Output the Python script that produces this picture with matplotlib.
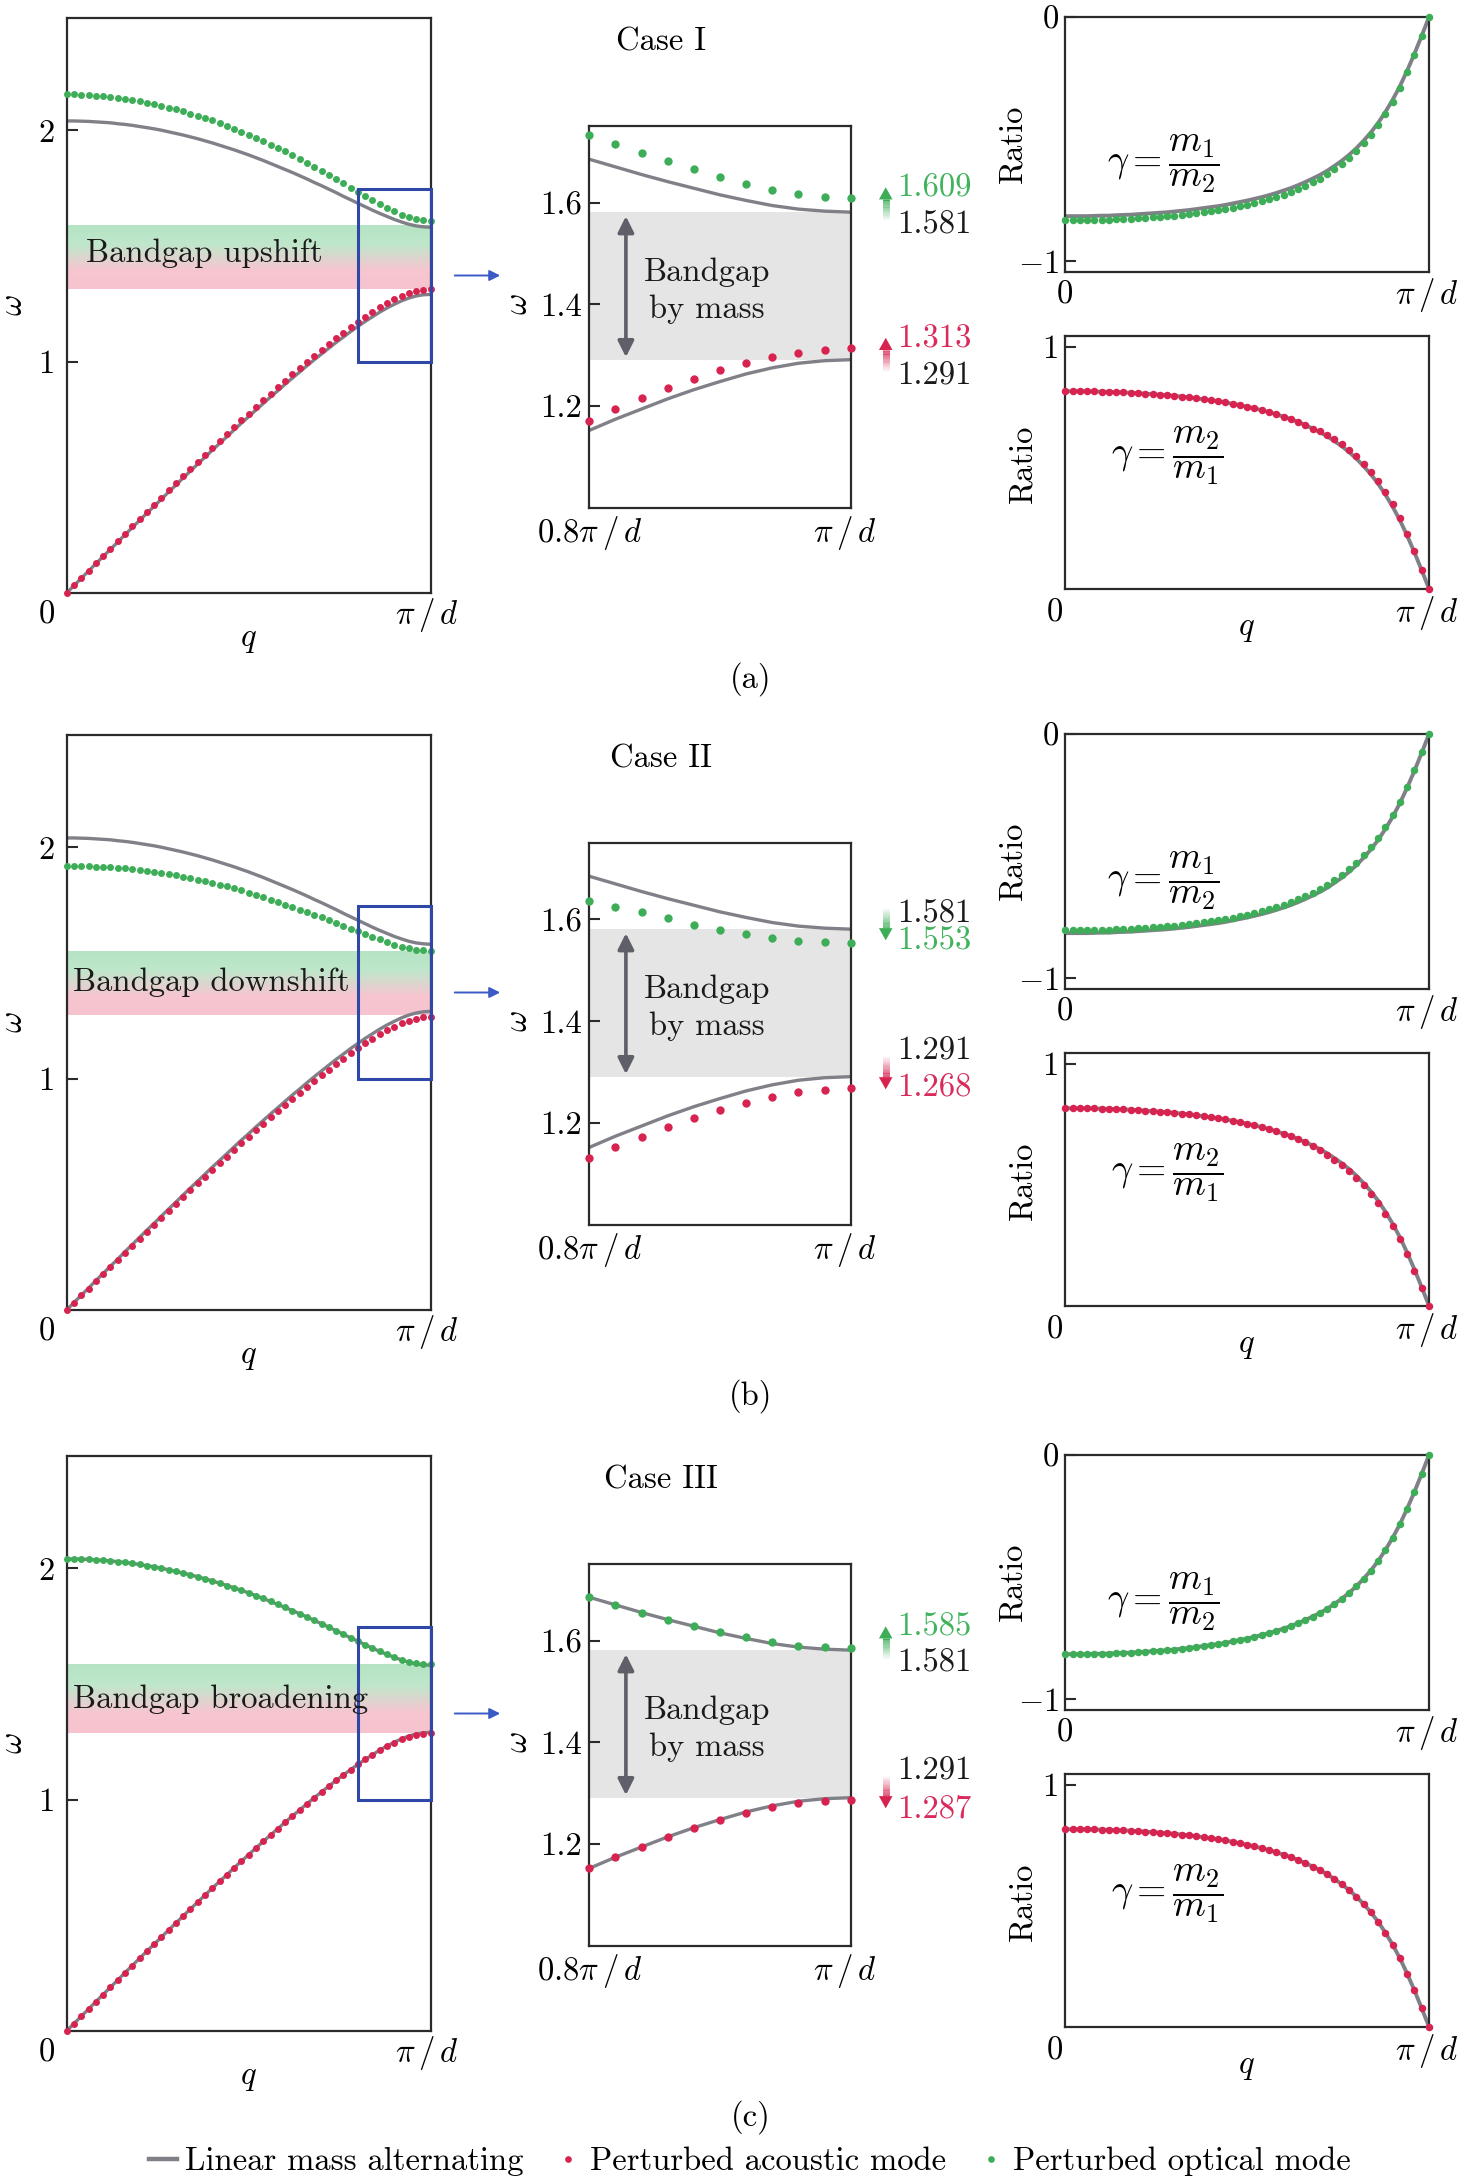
import numpy as np
import matplotlib
matplotlib.use("Agg")
import matplotlib.pyplot as plt
import matplotlib.transforms as mtransforms
from matplotlib.colors import LinearSegmentedColormap
from matplotlib.lines import Line2D
from matplotlib.patches import Rectangle, Polygon, FancyArrowPatch

# ─── Data (q in units of pi/d) ───────────────────────────────────────────────
q_frac = [0.00, 0.02, 0.04, 0.06, 0.08, 0.10, 0.12, 0.14, 0.16, 0.18,
          0.20, 0.22, 0.24, 0.26, 0.28, 0.30, 0.32, 0.34, 0.36, 0.38,
          0.40, 0.42, 0.44, 0.46, 0.48, 0.50, 0.52, 0.54, 0.56, 0.58,
          0.60, 0.62, 0.64, 0.66, 0.68, 0.70, 0.72, 0.74, 0.76, 0.78,
          0.80, 0.82, 0.84, 0.86, 0.88, 0.90, 0.92, 0.94, 0.96, 0.98, 1.00]

# linear mass alternating (reference, gray)
lin_opt = [2.041, 2.041, 2.040, 2.039, 2.037, 2.035, 2.033, 2.029, 2.026, 2.022,
           2.017, 2.012, 2.007, 2.001, 1.994, 1.987, 1.980, 1.972, 1.964, 1.955,
           1.946, 1.936, 1.926, 1.916, 1.905, 1.894, 1.882, 1.870, 1.857, 1.844,
           1.831, 1.818, 1.804, 1.790, 1.775, 1.761, 1.746, 1.731, 1.715, 1.700,
           1.685, 1.670, 1.655, 1.641, 1.628, 1.615, 1.604, 1.594, 1.587, 1.583, 1.581]
lin_ac = [0.000, 0.031, 0.063, 0.094, 0.126, 0.157, 0.188, 0.219, 0.251, 0.282,
          0.313, 0.344, 0.374, 0.405, 0.436, 0.466, 0.497, 0.527, 0.557, 0.587,
          0.617, 0.646, 0.675, 0.705, 0.734, 0.762, 0.791, 0.819, 0.847, 0.874,
          0.902, 0.929, 0.955, 0.982, 1.008, 1.033, 1.058, 1.083, 1.106, 1.130,
          1.152, 1.174, 1.194, 1.214, 1.232, 1.248, 1.263, 1.275, 1.284, 1.289, 1.291]
lin_ratio_opt = [-0.816, -0.816, -0.816, -0.816, -0.815, -0.814, -0.814, -0.812, -0.811, -0.810,
                 -0.808, -0.806, -0.804, -0.802, -0.800, -0.797, -0.794, -0.791, -0.787, -0.783,
                 -0.779, -0.775, -0.770, -0.764, -0.758, -0.752, -0.745, -0.738, -0.730, -0.721,
                 -0.711, -0.701, -0.689, -0.676, -0.662, -0.647, -0.630, -0.610, -0.589, -0.565,
                 -0.538, -0.507, -0.473, -0.434, -0.389, -0.339, -0.283, -0.219, -0.150, -0.076, 0.000]
lin_ratio_ac = [0.816, 0.816, 0.816, 0.816, 0.815, 0.814, 0.814, 0.812, 0.811, 0.810,
                0.808, 0.806, 0.804, 0.802, 0.800, 0.797, 0.794, 0.791, 0.787, 0.783,
                0.779, 0.775, 0.770, 0.764, 0.758, 0.752, 0.745, 0.738, 0.730, 0.721,
                0.711, 0.701, 0.689, 0.676, 0.662, 0.647, 0.630, 0.610, 0.589, 0.565,
                0.538, 0.507, 0.473, 0.434, 0.389, 0.339, 0.283, 0.219, 0.150, 0.076, 0.000]

# Case I (upshift)
pert_opt_1 = [2.156, 2.156, 2.155, 2.153, 2.151, 2.148, 2.146, 2.141, 2.137, 2.132,
              2.126, 2.120, 2.114, 2.107, 2.099, 2.091, 2.083, 2.073, 2.064, 2.053,
              2.043, 2.031, 2.019, 2.008, 1.995, 1.982, 1.968, 1.954, 1.939, 1.924,
              1.909, 1.894, 1.877, 1.861, 1.843, 1.826, 1.808, 1.790, 1.771, 1.752,
              1.733, 1.715, 1.698, 1.681, 1.665, 1.650, 1.636, 1.625, 1.617, 1.611, 1.609]
pert_ac_1 = [0.000, 0.032, 0.064, 0.096, 0.128, 0.160, 0.191, 0.223, 0.255, 0.287,
             0.318, 0.350, 0.380, 0.412, 0.443, 0.474, 0.505, 0.536, 0.566, 0.597,
             0.627, 0.657, 0.686, 0.717, 0.746, 0.775, 0.804, 0.833, 0.861, 0.889,
             0.917, 0.945, 0.971, 0.999, 1.025, 1.051, 1.076, 1.101, 1.125, 1.149,
             1.170, 1.195, 1.215, 1.235, 1.253, 1.270, 1.285, 1.296, 1.305, 1.311, 1.313]
pert_ratio_opt_1 = [-0.833, -0.833, -0.833, -0.833, -0.832, -0.831, -0.831, -0.829, -0.828, -0.827,
                    -0.825, -0.823, -0.821, -0.819, -0.817, -0.814, -0.811, -0.808, -0.804, -0.800,
                    -0.796, -0.792, -0.787, -0.781, -0.775, -0.769, -0.762, -0.755, -0.747, -0.738,
                    -0.728, -0.718, -0.706, -0.692, -0.678, -0.662, -0.645, -0.624, -0.603, -0.578,
                    -0.550, -0.518, -0.483, -0.443, -0.397, -0.346, -0.289, -0.224, -0.154, -0.078, 0.000]
pert_ratio_ac_1 = [0.816, 0.816, 0.816, 0.816, 0.815, 0.814, 0.814, 0.812, 0.811, 0.810,
                   0.808, 0.806, 0.804, 0.802, 0.800, 0.797, 0.794, 0.791, 0.787, 0.783,
                   0.779, 0.775, 0.770, 0.764, 0.758, 0.752, 0.745, 0.738, 0.730, 0.721,
                   0.711, 0.701, 0.689, 0.676, 0.662, 0.652, 0.636, 0.617, 0.597, 0.574,
                   0.547, 0.517, 0.483, 0.444, 0.399, 0.348, 0.291, 0.226, 0.155, 0.079, 0.000]

# Case II (downshift)
pert_opt_2 = [1.919, 1.919, 1.918, 1.918, 1.916, 1.915, 1.914, 1.911, 1.909, 1.906,
              1.902, 1.898, 1.894, 1.890, 1.884, 1.879, 1.873, 1.867, 1.861, 1.854,
              1.847, 1.839, 1.831, 1.823, 1.814, 1.805, 1.795, 1.785, 1.774, 1.764,
              1.753, 1.743, 1.731, 1.720, 1.708, 1.697, 1.685, 1.673, 1.660, 1.649,
              1.637, 1.625, 1.614, 1.602, 1.590, 1.580, 1.571, 1.564, 1.558, 1.555, 1.553]
pert_ac_2 = [0.000, 0.030, 0.062, 0.092, 0.124, 0.154, 0.185, 0.215, 0.246, 0.277,
             0.307, 0.338, 0.367, 0.398, 0.428, 0.458, 0.488, 0.518, 0.547, 0.576,
             0.606, 0.634, 0.663, 0.692, 0.721, 0.748, 0.777, 0.804, 0.832, 0.858,
             0.886, 0.912, 0.938, 0.964, 0.990, 1.014, 1.039, 1.064, 1.086, 1.110,
             1.132, 1.153, 1.173, 1.192, 1.210, 1.225, 1.239, 1.251, 1.260, 1.265, 1.268]
pert_ratio_opt_2 = [-0.804, -0.804, -0.804, -0.804, -0.803, -0.802, -0.802, -0.800, -0.799, -0.798,
                    -0.796, -0.794, -0.792, -0.790, -0.788, -0.785, -0.782, -0.779, -0.775, -0.771,
                    -0.767, -0.763, -0.758, -0.752, -0.746, -0.740, -0.733, -0.726, -0.718, -0.709,
                    -0.699, -0.689, -0.677, -0.664, -0.650, -0.635, -0.618, -0.598, -0.577, -0.553,
                    -0.527, -0.497, -0.464, -0.426, -0.382, -0.333, -0.278, -0.215, -0.147, -0.075, 0.000]
pert_ratio_ac_2 = [0.816, 0.816, 0.816, 0.816, 0.815, 0.814, 0.814, 0.812, 0.811, 0.810,
                   0.808, 0.806, 0.804, 0.802, 0.800, 0.797, 0.794, 0.791, 0.787, 0.783,
                   0.779, 0.775, 0.770, 0.764, 0.758, 0.752, 0.745, 0.738, 0.730, 0.721,
                   0.711, 0.701, 0.689, 0.676, 0.662, 0.642, 0.624, 0.603, 0.581, 0.556,
                   0.529, 0.497, 0.463, 0.424, 0.379, 0.330, 0.275, 0.212, 0.145, 0.073, 0.000]

# Case III (broadening)
pert_opt_3 = [2.041, 2.041, 2.040, 2.039, 2.037, 2.035, 2.033, 2.029, 2.026, 2.022,
              2.017, 2.012, 2.007, 2.001, 1.994, 1.987, 1.980, 1.972, 1.964, 1.955,
              1.946, 1.936, 1.926, 1.916, 1.905, 1.894, 1.882, 1.870, 1.857, 1.844,
              1.831, 1.818, 1.804, 1.790, 1.775, 1.761, 1.746, 1.731, 1.715, 1.700,
              1.685, 1.670, 1.655, 1.641, 1.628, 1.616, 1.606, 1.597, 1.590, 1.587, 1.585]
pert_ac_3 = [0.000, 0.031, 0.063, 0.094, 0.126, 0.157, 0.188, 0.219, 0.251, 0.282,
             0.313, 0.344, 0.374, 0.405, 0.436, 0.466, 0.497, 0.527, 0.557, 0.587,
             0.617, 0.646, 0.675, 0.705, 0.734, 0.762, 0.791, 0.819, 0.847, 0.874,
             0.902, 0.929, 0.955, 0.982, 1.008, 1.033, 1.058, 1.083, 1.106, 1.130,
             1.152, 1.174, 1.194, 1.214, 1.232, 1.247, 1.261, 1.272, 1.281, 1.285, 1.287]
pert_ratio_opt_3 = lin_ratio_opt
pert_ratio_ac_3 = lin_ratio_ac

case_titles = ["Case I", "Case II", "Case III"]
band_texts = ["Bandgap upshift", "Bandgap downshift", "Bandgap broadening"]
band_lo = [1.312, 1.276, 1.287]
band_hi = [1.588, 1.550, 1.585]
band_text_y = [1.467, 1.416, 1.436]
band_text_x = [0.053, 0.017, 0.017]
sub_labels = ["(a)", "(b)", "(c)"]

# labels next to the zoom panel: (text, colour key, y)
upper_labels = [[("1.609", "g", 1.628), ("1.581", "k", 1.556)],
                [("1.581", "k", 1.610), ("1.553", "g", 1.557)],
                [("1.585", "g", 1.626), ("1.581", "k", 1.555)]]
lower_labels = [[("1.313", "r", 1.332), ("1.291", "k", 1.259)],
                [("1.291", "k", 1.342), ("1.268", "r", 1.268)],
                [("1.291", "k", 1.343), ("1.287", "r", 1.269)]]
green_arrows = [(1.565, 1.630), (1.623, 1.559), (1.564, 1.628)]
red_arrows = [(1.269, 1.334), (1.332, 1.266), (1.334, 1.270)]

pert_opt = [pert_opt_1, pert_opt_2, pert_opt_3]
pert_ac = [pert_ac_1, pert_ac_2, pert_ac_3]
pert_ratio_opt = [pert_ratio_opt_1, pert_ratio_opt_2, pert_ratio_opt_3]
pert_ratio_ac = [pert_ratio_ac_1, pert_ratio_ac_2, pert_ratio_ac_3]

# ─── Style ───────────────────────────────────────────────────────────────────
GRAY = "#808088"
GREEN = "#3dad58"
RED = "#d7234f"
GREEN_TXT = "#42b35d"
RED_TXT = "#d92a5a"
BLUE = "#2f48a8"
SPINE = "#2a2a2a"
COLS = {"g": GREEN_TXT, "r": RED_TXT, "k": "#1a1a1a"}

plt.rcParams["font.family"] = "cmr10"
plt.rcParams["mathtext.fontset"] = "cm"
plt.rcParams["axes.unicode_minus"] = False
plt.rcParams["axes.formatter.use_mathtext"] = True
FS = 23.5
plt.rcParams["font.size"] = FS

W, H = 1462, 2182
ROW_OFF = [0, 717, 1438]

fig = plt.figure(figsize=(W / 100, H / 100), dpi=100)


def box(l, t, r, b):
    return [l / W, 1 - b / H, (r - l) / W, (b - t) / H]


def ftext(x, y, s, **kw):
    kw.setdefault("ha", "center")
    kw.setdefault("va", "center")
    fig.text(x / W, 1 - y / H, s, fontsize=FS, **kw)


def style_axes(ax):
    for sp in ax.spines.values():
        sp.set_color(SPINE)
        sp.set_linewidth(1.6)
    ax.set_xticks([])
    ax.tick_params(axis="y", direction="in", length=8, width=1.5,
                   color=SPINE, labelsize=FS)


def fade_arrow(ax, x, y_tail, y_tip, color):
    tr = mtransforms.blended_transform_factory(ax.transAxes, ax.transData)
    head = 0.024 if y_tip > y_tail else -0.024
    y_base = y_tip - head
    n = 18
    ys = np.linspace(y_tail, y_base, n + 1)
    for i in range(n):
        ax.plot([x, x], [ys[i], ys[i + 1]], transform=tr, color=color,
                alpha=((i + 1) / n) ** 1.2, lw=5.0, solid_capstyle="butt", clip_on=False)
    ax.add_patch(Polygon([(x - 0.026, y_base), (x + 0.026, y_base), (x, y_tip)],
                         closed=True, transform=tr, facecolor=color,
                         edgecolor="none", clip_on=False))


band_cmap = LinearSegmentedColormap.from_list(
    "band", [(0.0, "#f7c3cf"), (0.3, "#f6c6d0"), (0.7, "#bfe7cb"), (1.0, "#b5e4c4")])
gradient = np.linspace(0, 1, 256).reshape(-1, 1)

for r in range(3):
    o = ROW_OFF[r]

    # ── left: full dispersion ────────────────────────────────────
    ax1 = fig.add_axes(box(66.7, 18.3 + o, 430.7, 592.8 + o))
    style_axes(ax1)
    ax1.imshow(gradient, extent=(0, 1, band_lo[r], band_hi[r]), origin="lower",
               aspect="auto", cmap=band_cmap, zorder=0.5)
    ax1.plot(q_frac, lin_opt, color=GRAY, lw=2.4, zorder=2)
    ax1.plot(q_frac, lin_ac, color=GRAY, lw=2.4, zorder=2)
    ax1.plot(q_frac, pert_opt[r], "o", color=GREEN, ms=5.0, mew=0, zorder=3, clip_on=False)
    ax1.plot(q_frac, pert_ac[r], "o", color=RED, ms=5.0, mew=0, zorder=3, clip_on=False)
    ax1.add_patch(Rectangle((0.8, 1.0), 0.2, 0.745, fill=False, edgecolor=BLUE,
                            lw=2.2, zorder=4, clip_on=False))
    ax1.text(band_text_x[r], band_text_y[r], band_texts[r], ha="left", va="center",
             fontsize=FS, color="#1a1a1a", zorder=5,
             transform=mtransforms.blended_transform_factory(ax1.transAxes, ax1.transData))
    ax1.set_xlim(0, 1)
    ax1.set_ylim(0, 2.485)
    ax1.set_yticks([1, 2])
    ax1.set_yticklabels(["1", "2"])
    ax1.tick_params(axis="y", pad=8.4)
    ftext(13.3, 305 + o, r"$\omega$", rotation=90)
    ftext(46.7, 614.6 + o, "0")
    ftext(426.7, 614.6 + o, r"$\pi\,/\,d$")
    ftext(248.0, 640.8 + o, r"$q$")

    # blue arrow to zoomed panel
    fig.add_artist(FancyArrowPatch((452 / W, 1 - (275.5 + o) / H), (503 / W, 1 - (275.5 + o) / H),
                                   transform=fig.transFigure, arrowstyle="-|>",
                                   mutation_scale=16, color="#3a5bc7", lw=1.4))

    # ── middle: zoom near the zone edge ──────────────────────────
    ax2 = fig.add_axes(box(589.3, 126.2 + o, 850.7, 507.7 + o))
    style_axes(ax2)
    ax2.axhspan(lin_ac[-1], lin_opt[-1], color="#e6e5e5", lw=0, zorder=0.5)
    ax2.plot(q_frac[40:], lin_opt[40:], color=GRAY, lw=2.4, zorder=2)
    ax2.plot(q_frac[40:], lin_ac[40:], color=GRAY, lw=2.4, zorder=2)
    ax2.plot(q_frac[40:], pert_opt[r][40:], "o", color=GREEN, ms=6.0, mew=0, zorder=3, clip_on=False)
    ax2.plot(q_frac[40:], pert_ac[r][40:], "o", color=RED, ms=6.0, mew=0, zorder=3, clip_on=False)
    ax2.annotate("", xy=(0.828, 1.296), xytext=(0.828, 1.573),
                 arrowprops=dict(arrowstyle="<|-|>", color="#5e5f68", lw=2.6,
                                 mutation_scale=24, shrinkA=0, shrinkB=0), zorder=3)
    ax2.text(0.8 + 0.449 * 0.2, 1.427, "Bandgap\nby mass", ha="center", va="center",
             fontsize=FS, linespacing=1.3, color="#1a1a1a", zorder=4)
    ax2.set_xlim(0.8, 1.0)
    ax2.set_ylim(1.0, 1.75)
    ax2.set_yticks([1.2, 1.4, 1.6])
    ax2.set_yticklabels(["1.2", "1.4", "1.6"])
    ax2.tick_params(axis="y", pad=5.5)

    tr2 = mtransforms.blended_transform_factory(ax2.transAxes, ax2.transData)
    for txt, ck, yy in upper_labels[r] + lower_labels[r]:
        ax2.text(1.178, yy, txt, transform=tr2, ha="left", va="center",
                 fontsize=FS, color=COLS[ck], clip_on=False)
    fade_arrow(ax2, 1.134, green_arrows[r][0], green_arrows[r][1], GREEN)
    fade_arrow(ax2, 1.134, red_arrows[r][0], red_arrows[r][1], RED)

    ftext(661, 42.3 + o, case_titles[r])
    ftext(518.3, 303.8 + o, r"$\omega$", rotation=90)
    ftext(590, 532.7 + o, r"$0.8\pi\,/\,d$")
    ftext(845, 532.7 + o, r"$\pi\,/\,d$")

    # ── right top: optical amplitude ratio ───────────────────────
    ax3 = fig.add_axes(box(1065.3, 17.2 + o, 1429, 271.6 + o))
    style_axes(ax3)
    ax3.plot(q_frac, lin_ratio_opt, color=GRAY, lw=2.8, zorder=2)
    ax3.plot(q_frac, pert_ratio_opt[r], "o", color=GREEN, ms=5.4, mew=0, zorder=3, clip_on=False)
    ax3.set_xlim(0, 1)
    ax3.set_ylim(-1.0435, 0)
    ax3.set_yticks([-1, 0])
    ax3.set_yticklabels([r"$-1$", "0"])
    ax3.tick_params(axis="y", pad=4.5)
    ax3.text(0.115, -0.6, r"$\gamma=\dfrac{m_1}{m_2}$", transform=ax3.transData,
             ha="left", va="center", fontsize=27)
    ftext(1013, 143.6 + o, "Ratio", rotation=90)
    ftext(1065, 294.6 + o, "0")
    ftext(1426.7, 294.6 + o, r"$\pi\,/\,d$")

    # ── right bottom: acoustic amplitude ratio ───────────────────
    ax4 = fig.add_axes(box(1065.3, 335.6 + o, 1429, 588.7 + o))
    style_axes(ax4)
    ax4.plot(q_frac, lin_ratio_ac, color=GRAY, lw=2.8, zorder=2)
    ax4.plot(q_frac, pert_ratio_ac[r], "o", color=RED, ms=5.4, mew=0, zorder=3, clip_on=False)
    ax4.set_xlim(0, 1)
    ax4.set_ylim(0, 1.046)
    ax4.set_yticks([1])
    ax4.set_yticklabels(["1"])
    ax4.tick_params(axis="y", pad=4.5)
    ax4.text(0.125, 0.55, r"$\gamma=\dfrac{m_2}{m_1}$", transform=ax4.transData,
             ha="left", va="center", fontsize=27)
    ftext(1023, 463.6 + o, "Ratio", rotation=90)
    ftext(1055, 613.3 + o, "0")
    ftext(1426.7, 613.3 + o, r"$\pi\,/\,d$")
    ftext(1246.7, 629.7 + o, r"$q$")

    ftext(750.5, 679.4 + o, sub_labels[r])

handles = [
    Line2D([], [], color=GRAY, lw=3.2),
    Line2D([], [], ls="none", marker="o", color=RED, ms=4.8, mew=0),
    Line2D([], [], ls="none", marker="o", color=GREEN, ms=4.8, mew=0),
]
fig.legend(handles, ["Linear mass alternating", "Perturbed acoustic mode", "Perturbed optical mode"],
           loc="center", bbox_to_anchor=(0.513, 1 - 2161.7 / H), ncol=3, frameon=False,
           handlelength=0.85, handletextpad=0.25, columnspacing=0.95, fontsize=FS)

fig.savefig("out.png", dpi=100)
